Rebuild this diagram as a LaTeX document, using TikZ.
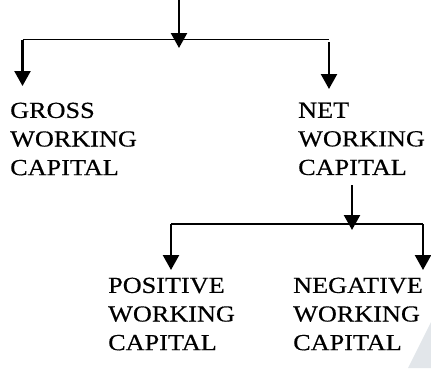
\documentclass[tikz,border=0pt]{standalone}
\usepackage{fontspec}
\setmainfont{Liberation Serif}[FakeStretch=1.14,FakeBold=0.4]
\usetikzlibrary{arrows.meta}
\definecolor{wm}{HTML}{E2E6EA}
\begin{document}
\begin{tikzpicture}[x=1pt,y=-1pt,
  lbl/.style={anchor=north west, inner sep=0pt, align=left, font=\fontsize{23}{28.6}\selectfont},
  arr/.style={-{Triangle[width=16pt,length=15pt]}, line width=2.3pt},
  bar/.style={line width=1.8pt}]
\useasboundingbox (0,0) rectangle (431,368);
\fill[wm] (408,368) -- (431,322) -- (431,368) -- cycle;
% level 1
\coordinate (top) at (179,0);
\coordinate (j1) at (179,48);
\coordinate (l1) at (22.5,39.5);
\coordinate (r1) at (329,39.5);
\coordinate (r1s) at (329,42);
\node[lbl] (gross) at (10,102.5) {GROSS\\WORKING\\CAPITAL};
\node[lbl] (net) at (298,102.5) {NET\\WORKING\\CAPITAL};
\coordinate (gtip) at (22.5,86);
\coordinate (ntip) at (329,89);
\draw[arr] (top) -- (j1);
\draw[bar] (l1) -- (r1);
\draw[arr] (l1) -- (gtip);
\draw[arr] (r1s) -- (ntip);
% level 2
\coordinate (n2) at (352,185);
\coordinate (j2) at (352,230);
\coordinate (l2) at (171,224);
\coordinate (r2) at (423,224);
\node[lbl] (pos) at (108,277.5) {POSITIVE\\WORKING\\CAPITAL};
\node[lbl] (neg) at (293,277.5) {NEGATIVE\\WORKING\\CAPITAL};
\coordinate (ptip) at (171,270);
\coordinate (qtip) at (423,270);
\draw[arr] (n2) -- (j2);
\draw[bar] (l2) -- (r2);
\draw[arr] (l2) -- (ptip);
\draw[arr] (r2) -- (qtip);
\end{tikzpicture}
\end{document}
